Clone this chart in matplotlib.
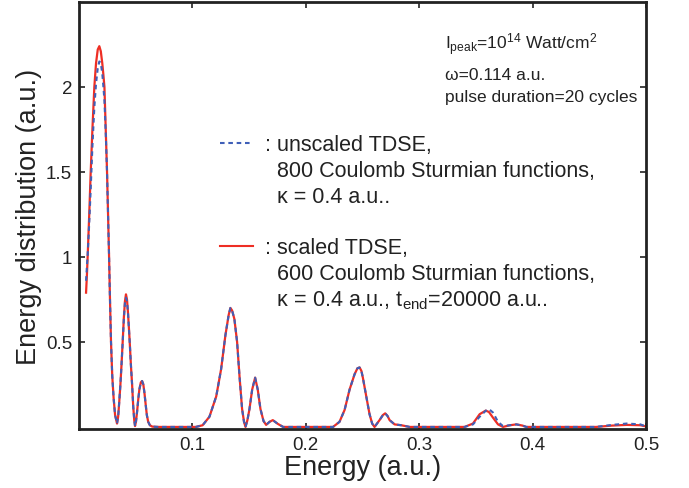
import matplotlib
matplotlib.use('Agg')
import matplotlib.pyplot as plt
from matplotlib.lines import Line2D

plt.rcParams['font.family'] = ['Liberation Sans', 'DejaVu Sans']
plt.rcParams['mathtext.fontset'] = 'custom'
plt.rcParams['mathtext.rm'] = 'Liberation Sans'
plt.rcParams['mathtext.it'] = 'Liberation Sans'

# energy grid (a.u.), shared by both curves
energy = [0.0062, 0.0070, 0.0076, 0.0090, 0.0103, 0.0118, 0.0135, 0.0150, 0.0165, 0.0179,
          0.0192, 0.0205, 0.0215, 0.0224, 0.0235, 0.0247, 0.0256, 0.0265, 0.0273, 0.0282,
          0.0293, 0.0305, 0.0318, 0.0335, 0.0345, 0.0355, 0.0365, 0.0375, 0.0385, 0.0395,
          0.0405, 0.0414, 0.0423, 0.0432, 0.0440, 0.0447, 0.0457, 0.0468, 0.0478, 0.0487,
          0.0494, 0.0502, 0.0512, 0.0522, 0.0532, 0.0545, 0.0556, 0.0567, 0.0577, 0.0588,
          0.0598, 0.0610, 0.0625, 0.0645, 0.0700, 0.1030, 0.1090, 0.1150, 0.1210, 0.1253,
          0.1291, 0.1320, 0.1335, 0.1350, 0.1370, 0.1394, 0.1415, 0.1438, 0.1455, 0.1468,
          0.1485, 0.1503, 0.1527, 0.1553, 0.1576, 0.1600, 0.1627, 0.1650, 0.1680, 0.1709,
          0.1753, 0.1800, 0.2240, 0.2297, 0.2342, 0.2386, 0.2430, 0.2455, 0.2474, 0.2490,
          0.2503, 0.2533, 0.2562, 0.2585, 0.2606, 0.2650, 0.2680, 0.2700, 0.2720, 0.2739,
          0.2783, 0.2842, 0.2915, 0.3400, 0.3474, 0.3533, 0.3586, 0.3615, 0.3650, 0.3695,
          0.3739, 0.3800, 0.3857, 0.3910, 0.3945, 0.4560, 0.4700, 0.4830, 0.4950, 0.5000]

# scaled TDSE (red, solid)
scaled = [0.79, 0.90, 1.00, 1.25, 1.50, 1.75, 2.00, 2.14, 2.22, 2.24,
          2.21, 2.14, 2.07, 2.00, 1.76, 1.50, 1.25, 1.00, 0.75, 0.50,
          0.30, 0.17, 0.07, 0.02, 0.06, 0.15, 0.25, 0.37, 0.50, 0.64,
          0.74, 0.78, 0.75, 0.67, 0.58, 0.50, 0.37, 0.25, 0.12, 0.04,
          0.005, 0.03, 0.09, 0.16, 0.22, 0.262, 0.27, 0.25, 0.20, 0.13,
          0.07, 0.03, 0.01, 0.002, 0.0, 0.0, 0.01, 0.06, 0.18, 0.34,
          0.54, 0.66, 0.70, 0.685, 0.635, 0.50, 0.30, 0.106, 0.03, 0.0,
          0.04, 0.105, 0.22, 0.29, 0.22, 0.105, 0.035, 0.012, 0.03, 0.04,
          0.018, 0.0, 0.0, 0.03, 0.10, 0.22, 0.31, 0.345, 0.35, 0.33,
          0.29, 0.18, 0.075, 0.02, 0.0, 0.04, 0.07, 0.08, 0.065, 0.04,
          0.015, 0.01, 0.0, 0.0, 0.02, 0.075, 0.096, 0.088, 0.055, 0.015,
          0.0, 0.01, 0.015, 0.008, 0.0, 0.0, 0.008, 0.012, 0.01, 0.003]

# unscaled TDSE (blue, dashed)
unscaled = [0.86, 0.95, 1.01, 1.20, 1.40, 1.65, 1.88, 2.02, 2.11, 2.15,
            2.14, 2.08, 2.00, 1.92, 1.74, 1.50, 1.25, 1.00, 0.75, 0.50,
            0.30, 0.17, 0.07, 0.02, 0.06, 0.15, 0.25, 0.37, 0.50, 0.63,
            0.73, 0.76, 0.74, 0.67, 0.58, 0.50, 0.37, 0.25, 0.12, 0.04,
            0.005, 0.03, 0.09, 0.16, 0.22, 0.262, 0.27, 0.25, 0.20, 0.13,
            0.07, 0.03, 0.01, 0.002, 0.0, 0.0, 0.01, 0.06, 0.18, 0.34,
            0.54, 0.66, 0.70, 0.685, 0.635, 0.50, 0.30, 0.106, 0.03, 0.0,
            0.04, 0.105, 0.22, 0.29, 0.22, 0.105, 0.035, 0.012, 0.03, 0.04,
            0.018, 0.0, 0.0, 0.03, 0.10, 0.22, 0.31, 0.345, 0.35, 0.33,
            0.29, 0.18, 0.075, 0.02, 0.0, 0.04, 0.07, 0.08, 0.065, 0.04,
            0.015, 0.01, 0.0, 0.0, 0.015, 0.06, 0.095, 0.105, 0.085, 0.03,
            0.005, 0.01, 0.015, 0.008, 0.0, 0.0, 0.012, 0.02, 0.015, 0.003]

x_ticks = [0.1, 0.2, 0.3, 0.4, 0.5]
y_ticks = [0.5, 1, 1.5, 2]

red = '#ee2e24'
blue = '#3f5fb8'
ink = '#222222'

fig = plt.figure(figsize=(6.89, 4.89), dpi=100)
ax = fig.add_axes([0.1147, 0.1207, 0.8229, 0.8732])

ax.plot(energy, scaled, color=red, lw=1.6)
ax.plot(energy, unscaled, color=blue, lw=1.5, linestyle=(0, (2.2, 1.8)))

ax.set_xlim(0, 0.5)
ax.set_ylim(-0.012, 2.5)
ax.set_xticks(x_ticks)
ax.set_xticklabels(['0.1', '0.2', '0.3', '0.4', '0.5'])
ax.set_yticks(y_ticks)
ax.set_yticklabels(['0.5', '1', '1.5', '2'])
ax.tick_params(direction='in', length=4, width=1.2, labelsize=13.5,
               top=True, right=True, colors=ink, pad=5)
for s in ax.spines.values():
    s.set_linewidth(2)
    s.set_color(ink)

ax.set_xlabel('Energy (a.u.)', fontsize=19.5, color=ink, labelpad=1)
ax.set_ylabel('Energy distribution (a.u.)', fontsize=19.5, color=ink, labelpad=3)

# parameter notes
ax.text(0.645, 0.890, r'I$_{\rm peak}$=10$^{14}$ Watt/cm$^{2}$', transform=ax.transAxes,
        fontsize=12.5, color=ink, va='baseline')
ax.text(0.645, 0.820, 'ω=0.114 a.u.', transform=ax.transAxes,
        fontsize=12.5, color=ink, va='baseline')
ax.text(0.645, 0.768, 'pulse duration=20 cycles', transform=ax.transAxes,
        fontsize=12.5, color=ink, va='baseline')

# legend built as rows, with blank handles for continuation lines
blank = Line2D([], [], color='none')
handles = [Line2D([], [], color=blue, lw=1.5, linestyle=(0, (2.2, 1.8))), blank, blank, blank,
           Line2D([], [], color=red, lw=1.5), blank, blank]
labels = [': unscaled TDSE,', '  800 Coulomb Sturmian functions,', '  κ = 0.4 a.u..', ' ',
          ': scaled TDSE,', '  600 Coulomb Sturmian functions,',
          r'  κ = 0.4 a.u., t$_{\rm end}$=20000 a.u..']
leg = ax.legend(handles, labels, loc='upper left', bbox_to_anchor=(0.2487, 0.69),
                frameon=False, fontsize=15.5, handlelength=1.55, handletextpad=0.55,
                labelspacing=0.22, borderpad=0, borderaxespad=0)
for t in leg.get_texts():
    t.set_color(ink)

fig.savefig('out.png', dpi=100)
